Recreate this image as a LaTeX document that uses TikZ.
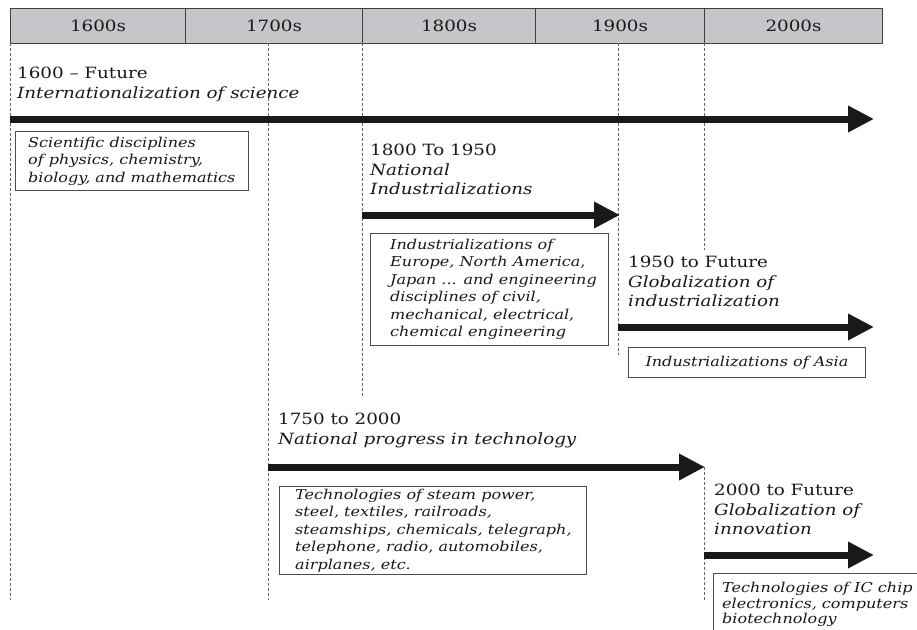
\documentclass[tikz,border=0pt]{standalone}
\usepackage{fontspec}
\setmainfont{DejaVu Serif}[FakeStretch=1.18]
\usetikzlibrary{arrows.meta}
\definecolor{hdr}{RGB}{198,198,202}
\definecolor{ink}{RGB}{25,25,25}
\begin{document}
\begin{tikzpicture}[x=1pt,y=-1pt,
  dashln/.style={draw=black!60, line width=1pt, dash pattern=on 3pt off 2pt},
  bigarrow/.style={draw=ink, line width=7pt, -{Triangle[length=26pt,width=25pt]}},
  lbl/.style={anchor=north west, inner sep=0pt, align=left, text=ink,
    font=\fontsize{15.5}{19.5}\selectfont},
  frame/.style={draw=black!70, line width=0.9pt, anchor=north west, inner sep=0pt},
  btxt/.style={anchor=west, align=left, inner sep=0pt, text=ink,
    font=\fontsize{13.6}{17.5}\selectfont\itshape},
  hdrcell/.style={draw=black!75, line width=1pt, fill=hdr, minimum height=35pt,
    inner sep=0pt, anchor=north west, text=ink, font=\fontsize{15.5}{18}\selectfont}
]
\useasboundingbox (0,0) rectangle (917,629);
% header
\node[hdrcell, minimum width=175pt] (h1) at (10,8) {1600s};
\node[hdrcell, minimum width=177pt] (h2) at (185,8) {1700s};
\node[hdrcell, minimum width=173pt] (h3) at (362,8) {1800s};
\node[hdrcell, minimum width=169pt] (h4) at (535,8) {1900s};
\node[hdrcell, minimum width=178pt] (h5) at (704,8) {2000s};
% guide lines
\coordinate (g0a) at (10,43);  \coordinate (g0b) at (10,600);
\coordinate (g1a) at (268,43); \coordinate (g1b) at (268,600);
\coordinate (g2a) at (362,43); \coordinate (g2b) at (362,397);
\coordinate (g3a) at (618,43); \coordinate (g3b) at (618,355);
\coordinate (g4a) at (704,43); \coordinate (g4b) at (704,250);
\coordinate (g5a) at (704,467); \coordinate (g5b) at (704,600);
\draw[dashln] (g0a) -- (g0b);
\draw[dashln] (g1a) -- (g1b);
\draw[dashln] (g2a) -- (g2b);
\draw[dashln] (g3a) -- (g3b);
\draw[dashln] (g4a) -- (g4b);
\draw[dashln] (g5a) -- (g5b);
% arrows
\coordinate (a1s) at (10,119);  \coordinate (a1e) at (874,119);
\coordinate (a2s) at (362,215); \coordinate (a2e) at (620,215);
\coordinate (a3s) at (618,327); \coordinate (a3e) at (874,327);
\coordinate (a4s) at (268,467); \coordinate (a4e) at (705,467);
\coordinate (a5s) at (704,555); \coordinate (a5e) at (874,555);
\draw[bigarrow] (a1s) -- (a1e);
\draw[bigarrow] (a2s) -- (a2e);
\draw[bigarrow] (a3s) -- (a3e);
\draw[bigarrow] (a4s) -- (a4e);
\draw[bigarrow] (a5s) -- (a5e);
% labels
\node[lbl] (t1) at (17,67) {1600 -- Future\\\textit{Internationalization of science}};
\node[lbl] (t2) at (370,144) {1800 To 1950\\\textit{National}\\\textit{Industrializations}};
\node[lbl] (t3) at (628,256) {1950 to Future\\\textit{Globalization of}\\\textit{industrialization}};
\node[lbl] (t4) at (278,413) {1750 to 2000\\\textit{National progress in technology}};
\node[lbl] (t5) at (714,484) {2000 to Future\\\textit{Globalization of}\\\textit{innovation}};
% boxes
\node[frame, minimum width=233pt, minimum height=59pt] (b1) at (15,131) {};
\node[btxt] (b1t) at ([xshift=13pt]b1.west)
  {Scientific disciplines\\of physics, chemistry,\\biology, and mathematics};
\node[frame, minimum width=238pt, minimum height=112pt] (b2) at (370,233) {};
\node[btxt] (b2t) at ([xshift=20pt]b2.west)
  {Industrializations of\\Europe, North America,\\Japan ... and engineering\\disciplines of civil,\\mechanical, electrical,\\chemical engineering};
\node[frame, minimum width=237pt, minimum height=30pt] (b3) at (628,347) {};
\node[btxt, anchor=center] (b3t) at (b3.center) {Industrializations of Asia};
\node[frame, minimum width=307pt, minimum height=88pt] (b4) at (279,486) {};
\node[btxt] (b4t) at ([xshift=16pt]b4.west)
  {Technologies of steam power,\\steel, textiles, railroads,\\steamships, chemicals, telegraph,\\telephone, radio, automobiles,\\airplanes, etc.};
\node[frame, minimum width=230pt, minimum height=70pt] (b5) at (713,573) {};
\node[btxt, anchor=north west, font=\fontsize{13.6}{15.5}\selectfont\itshape] (b5t)
  at ([xshift=9pt,yshift=-9pt]b5.north west)
  {Technologies of IC chip\\electronics, computers\\biotechnology};
\end{tikzpicture}
\end{document}
